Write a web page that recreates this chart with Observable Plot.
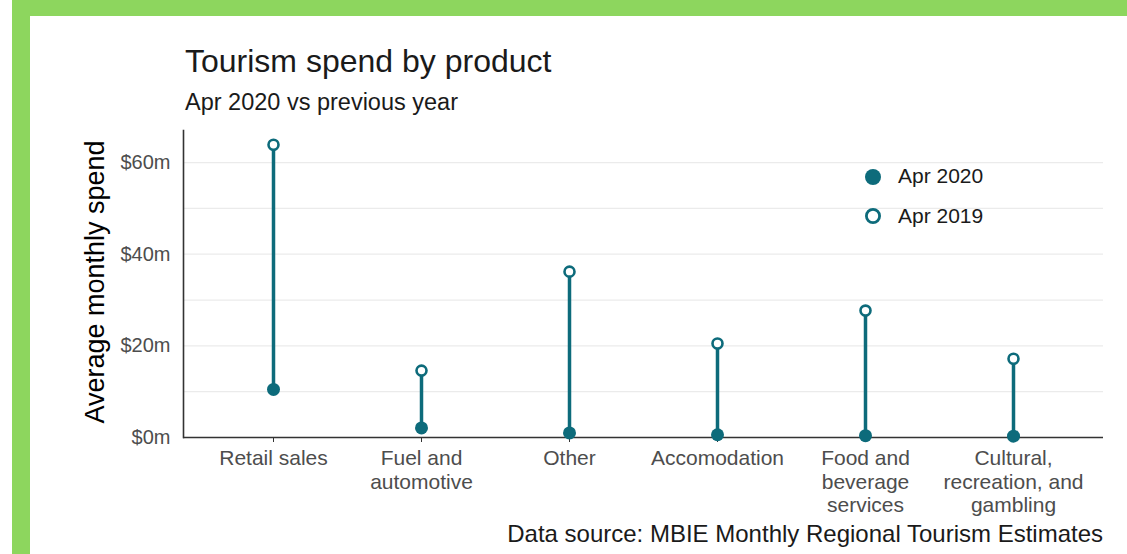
<!DOCTYPE html>
<html>
<head>
<meta charset="utf-8">
<script src="https://cdn.jsdelivr.net/npm/d3@7"></script>
<script src="https://cdn.jsdelivr.net/npm/@observablehq/plot@0.6"></script>
<style>
  html, body { margin: 0; padding: 0; background: #ffffff; }
  body { width: 1127px; height: 554px; position: relative; overflow: hidden; font-family: "Liberation Sans", Arial, sans-serif; }
  .strip { position: absolute; background: #8dd65e; }
  #title { position: absolute; left: 185px; top: 45px; font-size: 32px; line-height: 1; color: #1a1a1a; white-space: nowrap; }
  #subtitle { position: absolute; left: 185px; top: 91px; font-size: 23.5px; line-height: 1; color: #1a1a1a; white-space: nowrap; }
  #caption { position: absolute; right: 24px; top: 522px; font-size: 24px; line-height: 1; color: #1a1a1a; white-space: nowrap; }
  #chart { position: absolute; left: 30px; top: 110px; }
  .leg { position: absolute; font-size: 21px; line-height: 1; color: #1a1a1a; white-space: nowrap; }
  .legsvg { position: absolute; }
</style>
</head>
<body>
<div class="strip" style="left:12px; top:0; width:18px; height:554px;"></div>
<div class="strip" style="left:12px; top:0; width:1115px; height:16px;"></div>
<div id="title"></div>
<div id="subtitle"></div>
<div id="chart"></div>
<div id="legend"></div>
<div id="caption"></div>
<script>
// ---- data ----
const categories = ["Retail sales", "Fuel and automotive", "Other", "Accomodation", "Food and beverage services", "Cultural, recreation, and gambling"];
const tickLabels = ["Retail sales", "Fuel and\nautomotive", "Other", "Accomodation", "Food and\nbeverage\nservices", "Cultural,\nrecreation, and\ngambling"];
const apr2020 = [10.5, 2.1, 1.0, 0.6, 0.4, 0.3];
const apr2019 = [63.9, 14.6, 36.2, 20.5, 27.7, 17.2];
const seriesNames = ["Apr 2020", "Apr 2019"];
const yTicks = [0, 20, 40, 60];
const gridValues = [10, 20, 30, 40, 50, 60];
const titleText = "Tourism spend by product";
const subtitleText = "Apr 2020 vs previous year";
const yLabel = "Average monthly spend";
const captionText = "Data source: MBIE Monthly Regional Tourism Estimates";

const teal = "#0d6b7b";
const rows = categories.map((c, i) => ({category: c, label: tickLabels[i], v2020: apr2020[i], v2019: apr2019[i]}));
const labelOf = new Map(rows.map(d => [d.category, d.label]));

document.getElementById("title").textContent = titleText;
document.getElementById("subtitle").textContent = subtitleText;
document.getElementById("caption").textContent = captionText;

const chart = Plot.plot({
  width: 1097,
  height: 415,
  marginLeft: 153,
  marginRight: 24,
  marginTop: 20,
  marginBottom: 88,
  style: {fontFamily: "Liberation Sans, Arial, sans-serif", background: "transparent"},
  x: {type: "point", domain: categories, padding: 0.6, align: 0.5},
  y: {domain: [0, 67]},
  marks: [
    Plot.ruleY(gridValues, {stroke: "#ebebeb", strokeWidth: 1.3}),
    Plot.frame({anchor: "left", stroke: "#333333", strokeWidth: 1.6}),
    Plot.axisY({ticks: yTicks, tickSize: 0, tickPadding: 13, tickFormat: d => `$${d}m`, fontSize: 20, fill: "#4d4d4d", label: null}),
    Plot.axisX({tickSize: 5, tickPadding: 6, tickFormat: d => labelOf.get(d), fontSize: 21, fill: "#4d4d4d", stroke: "#333333", lineHeight: 1.12, label: null}),
    Plot.ruleY([0], {stroke: "#333333", strokeWidth: 1.6}),
    Plot.text([yLabel], {frameAnchor: "left", text: d => d, rotate: -90, dx: -80, dy: -2, lineAnchor: "bottom", textAnchor: "middle", fontSize: 27, fill: "#000000"}),
    Plot.ruleX(rows, {x: "category", y1: "v2020", y2: "v2019", stroke: teal, strokeWidth: 3.5}),
    Plot.dot(rows, {x: "category", y: "v2020", r: 6.5, fill: teal, stroke: "none"}),
    Plot.dot(rows, {x: "category", y: "v2019", r: 5, fill: "#ffffff", stroke: teal, strokeWidth: 2.6})
  ]
});
document.getElementById("chart").appendChild(chart);

// ---- legend ----
const legend = document.getElementById("legend");
const legendTops = [165, 205];
const circleCenters = [177, 216];
seriesNames.forEach((name, i) => {
  const svg = document.createElementNS("http://www.w3.org/2000/svg", "svg");
  svg.setAttribute("class", "legsvg");
  svg.setAttribute("width", 22);
  svg.setAttribute("height", 22);
  svg.style.left = (873 - 11) + "px";
  svg.style.top = (circleCenters[i] - 11) + "px";
  const c = document.createElementNS("http://www.w3.org/2000/svg", "circle");
  c.setAttribute("cx", 11); c.setAttribute("cy", 11);
  if (i === 0) { c.setAttribute("r", 8); c.setAttribute("fill", teal); }
  else { c.setAttribute("r", 6.6); c.setAttribute("fill", "#fff"); c.setAttribute("stroke", teal); c.setAttribute("stroke-width", 2.8); }
  svg.appendChild(c);
  legend.appendChild(svg);
  const t = document.createElement("div");
  t.className = "leg";
  t.style.left = "898px";
  t.style.top = legendTops[i] + "px";
  t.textContent = name;
  legend.appendChild(t);
});
</script>
</body>
</html>
